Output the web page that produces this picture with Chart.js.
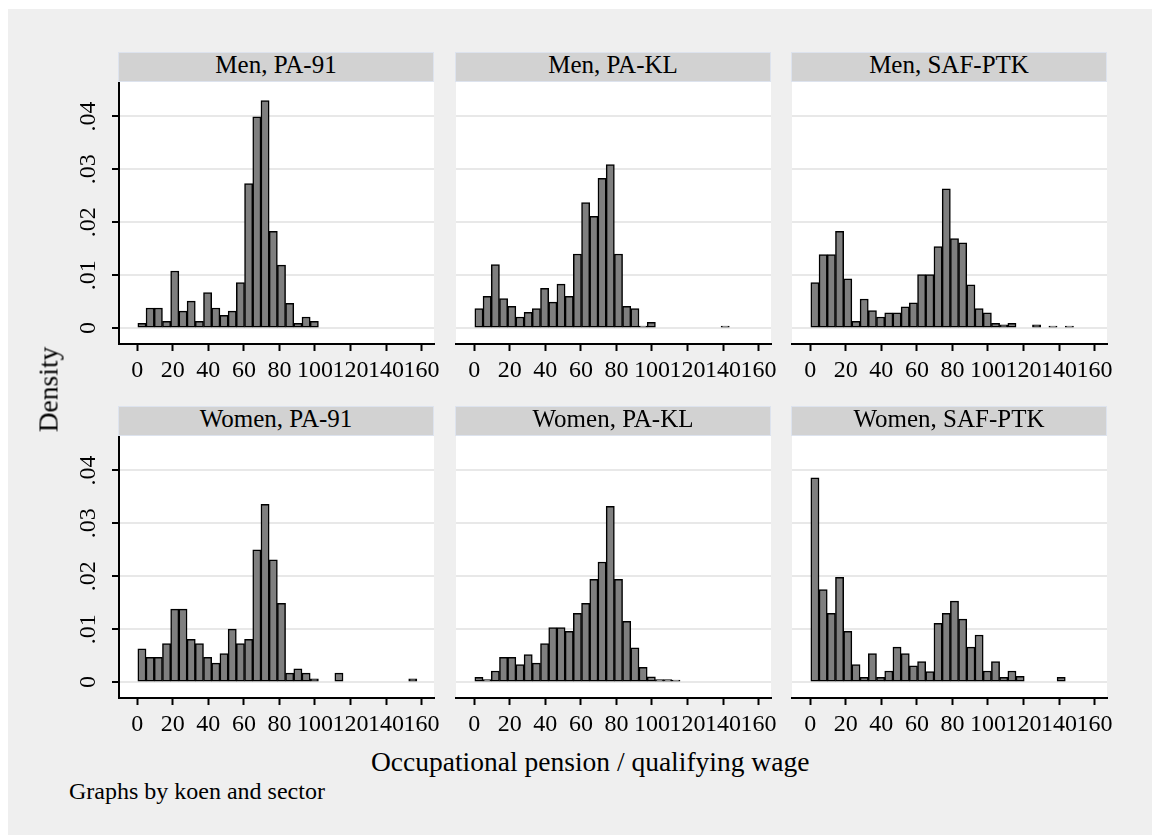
<!DOCTYPE html>
<html>
<head>
<meta charset="utf-8">
<script src="https://cdn.jsdelivr.net/npm/chart.js@4.4.0/dist/chart.umd.min.js"></script>
<style>
  body { margin: 0; background: #fff; width: 1152px; height: 835px; overflow: hidden; position: relative;
         font-family: 'Liberation Serif', 'Times New Roman', serif; }
  #frame { position: absolute; left: 8px; top: 9px; right: 0; bottom: 0; background: #efefef; }
  .strip { position: absolute; height: 30px; background: #d2d2d2; border: 1px solid #dde3ee; box-sizing: border-box;
           text-align: center; font-size: 25px; line-height: 23px; color: #000; white-space: nowrap; }
  canvas { position: absolute; }
  .lbl { position: absolute; color: #000; white-space: nowrap; }
</style>
</head>
<body>
<div id="frame"></div>
<div id="panels"></div>
<div class="lbl" style="left:-52px; top:373px; width:200px; height:33px; line-height:33px; font-size:27.5px; text-align:center; transform:rotate(-90deg);">Density</div>
<div class="lbl" style="left:371px; top:745px; line-height:33px; font-size:27.5px;">Occupational pension / qualifying wage</div>
<div class="lbl" style="left:69px; top:777px; line-height:29px; font-size:24px;">Graphs by koen and sector</div>

<script>
// histogram bins (same for every panel)
const binStart = 0.3;
const binWidth = 4.62;

const xTicks = [0, 20, 40, 60, 80, 100, 120, 140, 160];
const xTickLabels = ['0', '20', '40', '60', '80', '100', '120', '140', '160'];
const yTicks = [0, 0.01, 0.02, 0.03, 0.04];
const yTickLabels = ['0', '.01', '.02', '.03', '.04'];

const panelTitles = ['Men, PA-91', 'Men, PA-KL', 'Men, SAF-PTK', 'Women, PA-91', 'Women, PA-KL', 'Women, SAF-PTK'];

// densities per bin
const menPA91 = [.0009, .0038, .0038, .0013, .0108, .0032, .0051, .0013, .0067, .0038, .0024, .0032, .0086, .0273, .0399, .0430, .0183,
                 .0119, .0047, .0009, .0021, .0013, 0, 0, 0, 0, 0, 0, 0, 0, 0, 0, 0, 0];
const menPAKL = [.0037, .0060, .0120, .0056, .0041, .0021, .0030, .0037, .0075, .0049, .0083, .0060, .0140, .0237, .0211, .0283, .0309,
                 .0140, .0041, .0037, .0004, .0011, 0, 0, 0, 0, 0, 0, 0, 0, .0004, 0, 0, 0];
const menSAF = [.0086, .0139, .0139, .0183, .0093, .0013, .0055, .0033, .0021, .0029, .0029, .0040, .0048, .0101, .0101, .0154, .0263,
                .0169, .0161, .0082, .0037, .0029, .0009, .0006, .0009, 0, 0, .0006, 0, .0004, 0, .0004, 0, 0];
const womenPA91 = [.0063, .0047, .0047, .0073, .0138, .0138, .0081, .0073, .0047, .0036, .0054, .0100, .0073, .0081, .0250, .0336, .0231,
                   .0149, .0017, .0025, .0017, .0006, 0, 0, .0017, 0, 0, 0, 0, 0, 0, 0, 0, .0006];
const womenPAKL = [.0009, .0005, .0021, .0047, .0047, .0033, .0052, .0036, .0073, .0103, .0103, .0096, .0130, .0149, .0194, .0227, .0332,
                   .0194, .0115, .0065, .0028, .0010, .0005, .0005, .0004, 0, 0, 0, 0, 0, 0, 0, 0, 0];
const womenSAF = [.0386, .0175, .0130, .0198, .0096, .0033, .0009, .0054, .0009, .0021, .0066, .0054, .0031, .0039, .0020, .0111, .0130,
                  .0153, .0119, .0066, .0089, .0021, .0039, .0009, .0021, .0011, 0, 0, 0, 0, .0009, 0, 0, 0];

const panelSeries = [menPA91, menPAKL, menSAF, womenPA91, womenPAKL, womenSAF];

// layout
const COL_LEFT = [119, 456, 792];
const ROW_TOP = [82, 436];
const PLOT_W = 315, PLOT_H = 262;
const AXIS_W = 70, AXIS_H = 45, PAD_R = 20;

const tickFont = { family: "'Liberation Serif', 'Times New Roman', serif", size: 24 };

const plotBg = {
    id: 'plotBg',
    beforeDraw(chart) {
        const { ctx, chartArea: a } = chart;
        ctx.save();
        ctx.fillStyle = '#fff';
        ctx.fillRect(a.left, a.top, a.right - a.left, a.bottom - a.top);
        ctx.restore();
    }
};

function histPoints(values) {
    return values.map((d, i) => ({ x: binStart + binWidth * (i + 0.5), y: d }));
}

function renderPanels() {
    const box = document.getElementById('panels');

    panelSeries.forEach((values, i) => {
        const col = i % 3;
        const row = Math.floor(i / 3);
        const left = COL_LEFT[col];
        const top = ROW_TOP[row];
        const hasAxis = col === 0;

        const strip = document.createElement('div');
        strip.className = 'strip';
        strip.style.left = (left - 1) + 'px';
        strip.style.top = (top - 30) + 'px';
        strip.style.width = (PLOT_W + 1) + 'px';
        strip.textContent = panelTitles[i];
        box.appendChild(strip);

        const canvas = document.createElement('canvas');
        canvas.width = AXIS_W + PLOT_W + PAD_R;
        canvas.height = PLOT_H + AXIS_H;
        canvas.style.left = (left - AXIS_W) + 'px';
        canvas.style.top = top + 'px';
        box.appendChild(canvas);

        new Chart(canvas, {
            type: 'bar',
            data: {
                datasets: [{
                    data: histPoints(values),
                    backgroundColor: '#7f7f7f',
                    borderColor: '#000',
                    borderWidth: 1.5,
                    borderSkipped: false,
                    barPercentage: 1,
                    categoryPercentage: 1
                }]
            },
            options: {
                responsive: false,
                animation: false,
                events: [],
                layout: { padding: { left: 0, right: PAD_R, top: 0, bottom: 0 } },
                plugins: {
                    legend: { display: false },
                    tooltip: { enabled: false }
                },
                scales: {
                    x: {
                        type: 'linear',
                        min: -10.3,
                        max: 167,
                        offset: false,
                        afterBuildTicks: s => { s.ticks = xTicks.map(v => ({ value: v })); },
                        afterFit: s => { s.height = AXIS_H; s.paddingLeft = 0; s.paddingRight = 0; },
                        grid: { offset: false, drawOnChartArea: false, drawTicks: true, tickLength: 7, tickWidth: 2, tickColor: '#000' },
                        border: { display: true, color: '#000', width: 2 },
                        ticks: {
                            autoSkip: false, maxRotation: 0, minRotation: 0, padding: 5,
                            color: '#000', font: tickFont,
                            callback: (v, idx) => xTickLabels[idx]
                        }
                    },
                    y: {
                        type: 'linear',
                        min: -0.003,
                        max: 0.0465,
                        afterBuildTicks: s => { s.ticks = yTicks.map(v => ({ value: v })); },
                        afterFit: s => { s.width = AXIS_W; s.paddingTop = 0; s.paddingBottom = 0; },
                        grid: { color: '#e8e8e8', lineWidth: 2, drawTicks: hasAxis, tickLength: 7, tickWidth: 2, tickColor: '#000' },
                        border: { display: hasAxis, color: '#000', width: 2 },
                        ticks: {
                            display: hasAxis, minRotation: 90, maxRotation: 90, crossAlign: 'center', padding: 8,
                            color: '#000', font: tickFont,
                            callback: (v, idx) => yTickLabels[idx]
                        }
                    }
                }
            },
            plugins: [plotBg]
        });
    });
}

renderPanels();
</script>
</body>
</html>
